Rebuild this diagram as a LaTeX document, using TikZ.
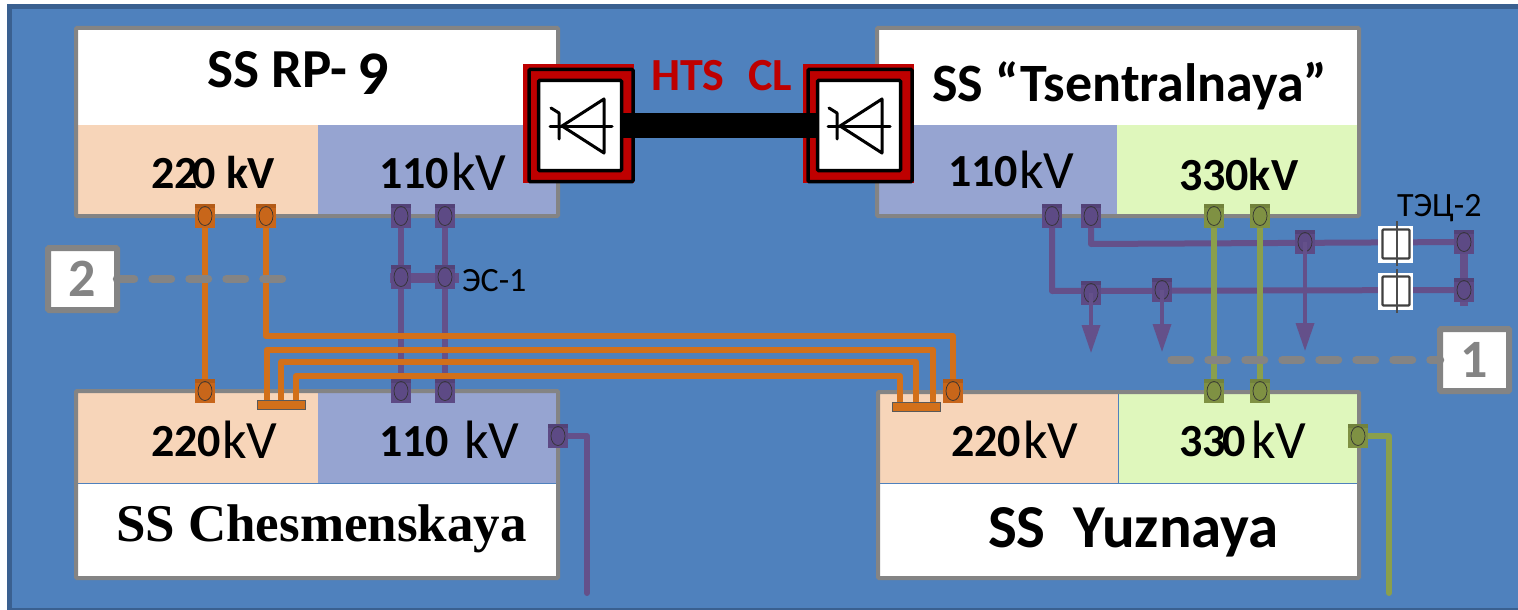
\documentclass[tikz,border=0pt]{standalone}
\usepackage{fontspec}
\setmainfont{Carlito}
\newfontfamily\serifb[Ligatures=TeX]{Liberation Serif}
\usetikzlibrary{arrows.meta}
\pgfdeclarelayer{bglayer}
\pgfdeclarelayer{wirelayer}
\pgfsetlayers{bglayer,wirelayer,main}
\definecolor{panelblue}{HTML}{4F81BD}
\definecolor{paneledge}{HTML}{3A6090}
\definecolor{greyline}{HTML}{848484}
\definecolor{peach}{HTML}{F7D5B9}
\definecolor{lavblue}{HTML}{96A4D1}
\definecolor{paleg}{HTML}{DFF7BC}
\definecolor{orangew}{HTML}{D2701A}
\definecolor{orangep}{HTML}{C8661A}
\definecolor{purplew}{HTML}{64508A}
\definecolor{purplep}{HTML}{5D4A85}
\definecolor{greenw}{HTML}{8A9F4C}
\definecolor{greenp}{HTML}{7F9143}
\definecolor{redc}{HTML}{BE0000}
\newcommand{\Fz}[1]{\fontsize{#1}{#1}\selectfont}
\tikzset{
  x=1pt,y=-1pt,
  txt/.style={anchor=base west,inner sep=0pt,outer sep=0pt},
  frame/.style={draw=greyline,line width=4pt,rounded corners=1pt},
  port/.style={rectangle,minimum width=20pt,minimum height=24pt,inner sep=0pt,outer sep=0pt,fill=#1,
    path picture={\fill[black,opacity=.1] (path picture bounding box.north west) rectangle ([yshift=-4pt]path picture bounding box.north east);
      \draw[black!80,line width=.7pt] (path picture bounding box.center) ellipse [x radius=7pt,y radius=9.5pt];}},
  wire/.style={line width=6pt,line join=round,line cap=round},
  orangeline/.style={wire,draw=orangew},
  purpleline/.style={wire,draw=purplew},
  greenline/.style={wire,draw=greenw},
  dashline/.style={draw=greyline,line width=8.5pt,line cap=round,dash pattern=on 18.5pt off 18.5pt},
  tagbox/.style={rectangle,draw=greyline,fill=white,line width=6pt,rounded corners=1pt,inner sep=0pt,outer sep=0pt,minimum width=69pt,minimum height=62pt,text=greyline,font=\Fz{54}\bfseries},
  busbar/.style={rectangle,fill=orangew,draw=black!65,line width=.7pt,inner sep=0pt,outer sep=0pt,minimum width=48pt,minimum height=9pt},
  convred/.style={rectangle,fill=redc,inner sep=0pt,outer sep=0pt,minimum width=111pt,minimum height=119pt},
  convblack/.style={rectangle,draw=black,line width=3.5pt,rounded corners=1pt,inner sep=0pt,outer sep=0pt,minimum width=104pt,minimum height=112pt},
  convinner/.style={rectangle,fill=white,draw=black,line width=3.5pt,rounded corners=1pt,inner sep=0pt,outer sep=0pt,minimum width=83pt,minimum height=90pt},
  switchbox/.style={rectangle,fill=white,inner sep=0pt,outer sep=0pt,minimum width=35pt,minimum height=37pt},
  switchin/.style={rectangle,fill=white,draw=black!75,line width=2.2pt,rounded corners=1pt,inner sep=0pt,outer sep=0pt,minimum width=27pt,minimum height=29pt},
  stem/.style={draw=black!70,line width=2pt},
  flow/.style={draw=purplew,line width=3.5pt,-{Triangle[width=18pt,length=28pt]}},
  diodeline/.style={draw=black,line width=3pt,line cap=round,line join=round},
  pics/diodesym/.style={code={
    \draw[diodeline] (-12,0) -- (50,0);
    \draw[diodeline] (42,-27) -- (0,0) -- (42,27) -- cycle;
    \draw[diodeline] (-11,-18) -- (-3,-13) -- (-3,13);
  }}
}
\begin{document}
\begin{tikzpicture}
\useasboundingbox (0,0) rectangle (1518,610);
\begin{pgfonlayer}{bglayer}
  \path[fill=white] (0,0) rectangle (1518,610);
  \path[fill=panelblue] (7,4) rectangle (1518,610);
  \path[fill=paneledge] (7,4) rectangle (1518,9);
  \path[fill=paneledge] (7,4) rectangle (12,610);
  \path[fill=paneledge] (7,608) rectangle (1518,610);
  % RP-9
  \path[fill=white] (76,28) rectangle (558,125);
  \path[fill=peach] (76,125) rectangle (318,216);
  \path[fill=lavblue] (318,125) rectangle (558,216);
  \path[frame] (76,28) rectangle (558,216);
  % Tsentralnaya
  \path[fill=white] (877,28) rectangle (1359,125);
  \path[fill=lavblue] (877,125) rectangle (1117,216);
  \path[fill=paleg] (1117,125) rectangle (1359,216);
  \path[frame] (877,28) rectangle (1359,216);
  % Chesmenskaya
  \path[fill=peach] (76,391) rectangle (318,483);
  \path[fill=lavblue] (318,391) rectangle (558,483);
  \path[fill=white] (76,483) rectangle (558,578);
  \draw[panelblue,line width=.7pt] (76,483) -- (558,483);
  \path[frame] (76,391) rectangle (558,578);
  % Yuznaya
  \path[fill=peach] (878,392) rectangle (1118,483);
  \path[fill=paleg] (1118,392) rectangle (1359,483);
  \path[fill=white] (878,483) rectangle (1359,578);
  \draw[panelblue,line width=.7pt] (878,483) -- (1359,483) (1118,392) -- (1118,483);
  \path[frame] (878,392) rectangle (1359,578);
\end{pgfonlayer}

% ports
\node[port=orangep] (ra) at (205,216) {};
\node[port=orangep] (rb) at (266,216) {};
\node[port=purplep] (rc) at (401,216) {};
\node[port=purplep] (rd) at (445,216) {};
\node[port=purplep] (mc) at (401,277) {};
\node[port=purplep] (md) at (445,277) {};
\node[port=orangep] (ca) at (205,391) {};
\node[port=purplep] (cc) at (401,391) {};
\node[port=purplep] (cd) at (445,391) {};
\node[port=purplep] (ce) at (558,436) {};
\node[port=orangep] (yb) at (953,391) {};
\node[port=greenp] (yc) at (1214,391) {};
\node[port=greenp] (yd) at (1260,391) {};
\node[port=greenp] (ye) at (1358,436) {};
\node[port=purplep] (ta) at (1052,216) {};
\node[port=purplep] (tb) at (1091,216) {};
\node[port=greenp] (tc) at (1214,216) {};
\node[port=greenp] (td) at (1260,216) {};
\node[port=purplep] (pa) at (1091,293) {};
\node[port=purplep] (pb) at (1162,290) {};
\node[port=purplep] (pc) at (1305,242) {};
\node[port=purplep] (pd) at (1464,242) {};
\node[port=purplep] (pe) at (1464,290) {};
\node[busbar] (bl) at (281.5,404.5) {};
\node[busbar] (br) at (916,406.5) {};

% elbows and free ends
\coordinate (e1) at (953,336);
\coordinate (l2) at (267,404);
\coordinate (r2) at (933,406);
\coordinate (k2) at (933,350);
\coordinate (l3) at (281,404);
\coordinate (r3) at (916,406);
\coordinate (k3) at (916,362);
\coordinate (l4) at (296,404);
\coordinate (r4) at (900,406);
\coordinate (k4) at (900,376);
\coordinate (ce1) at (587,436);
\coordinate (ce2) at (587,593);
\coordinate (ye1) at (1389,436);
\coordinate (ye2) at (1389,593);
\coordinate (tb1) at (1091,244);
\coordinate (ta1) at (1052,291);
\coordinate (v2) at (1464,306);
\coordinate (fa) at (1091,353);
\coordinate (fb) at (1162,352);
\coordinate (fc) at (1305,351);
\coordinate (d1) at (1171.5,360);
\coordinate (d2) at (282,279);
\coordinate (h1) at (390,277.5);
\coordinate (h2) at (459,277.5);

\begin{pgfonlayer}{wirelayer}
  \draw[purpleline] (rc.center) -- (cc.center);
  \draw[purpleline] (rd.center) -- (cd.center);
  \draw[line width=10pt,draw=purplew] (h1) -- (h2);
  \draw[orangeline] (ra.center) -- (ca.center);
  \draw[orangeline] (rb.center) |- (e1) -- (yb.center);
  \draw[orangeline] (l2) |- (k2) -- (r2);
  \draw[orangeline] (l3) |- (k3) -- (r3);
  \draw[orangeline] (l4) |- (k4) -- (r4);
  \draw[purpleline] (ce.center) -- (ce1) -- (ce2);
  \draw[greenline] (ye.center) -- (ye1) -- (ye2);
  \draw[purpleline] (tb.center) -- (tb1) -- (pd.center);
  \draw[purpleline] (ta.center) -- (ta1) -- (pe.center);
  \draw[line width=8pt,draw=purplew] (pd.center) -- (v2);
  \draw[greenline] (tc.center) -- (yc.center);
  \draw[greenline] (td.center) -- (yd.center);
\end{pgfonlayer}

\draw[flow] (pa.center) -- (fa);
\draw[flow] (pb.center) -- (fb);
\draw[flow] (pc.center) -- (fc);

% tag boxes and dashed lines
\node[tagbox] (tag2) at (82.5,279) {2};
\node[tagbox] (tag1) at (1474.5,360) {1};
\draw[dashline] (d1) -- (tag1.west);
\draw[dashline] (d2) -- (tag2.east);

% switches
\node[switchbox] (sw1) at (1395.5,244) {};
\node[switchin] (si1) at (1396,244) {};
\node[switchbox] (sw2) at (1395.5,291) {};
\node[switchin] (si2) at (1396,291) {};
\coordinate (s1a) at (1397,221);
\coordinate (s1b) at (1397,266);
\coordinate (s2a) at (1397,269);
\coordinate (s2b) at (1397,313);
\draw[stem] (s1a) -- (s1b);
\draw[stem] (s2a) -- (s2b);

% converters
\node[convred] (lr) at (578.5,123.5) {};
\node[convblack] (lb) at (581,125.5) {};
\node[convinner] (li) at (580,125.5) {};
\node[convred] (rr) at (858.5,123.5) {};
\node[convblack] (rb2) at (860,125.5) {};
\node[convinner] (ri) at (859,125.5) {};
\draw[line width=25pt,draw=black] (li.east) -- (ri.west);
\pic at (562,126) {diodesym};
\pic at (840,126) {diodesym};

% labels
\node[txt,text=redc,font=\Fz{46}\bfseries] (hts) at (651,91) {HTS};
\node[txt,text=redc,font=\Fz{46}\bfseries] (cl) at (748,91) {CL};

\node[txt,font=\Fz{55}\bfseries] (t1) at (207,88) {SS RP-};
\node[txt,font=\Fz{62}\bfseries] (t1b) at (357,95) {9};
\node[txt,font=\Fz{46}\bfseries] (v1) at (151,188) {22\kern-5pt0 k\kern-1ptV};
\node[txt,font=\Fz{46}\bfseries] (v2a) at (379,188) {110};
\node[txt,font=\Fz{54}] (v2b) at (451,190) {kV};

\node[txt,font=\Fz{54}\bfseries] (t2) at (932,101) {SS “Tsentralnaya”};
\node[txt,font=\Fz{46}\bfseries] (v3a) at (948,186) {110};
\node[txt,font=\Fz{54}] (v3b) at (1019,188) {kV};
\node[txt,font=\Fz{46}\bfseries] (v4) at (1179,190) {330kV};

\node[txt,font=\Fz{46}\bfseries] (v5a) at (151,456) {220};
\node[txt,font=\Fz{54}] (v5b) at (222,458) {kV};
\node[txt,font=\Fz{46}\bfseries] (v6a) at (379,456) {110};
\node[txt,font=\Fz{54}] (v6b) at (464,458) {kV};
\node[txt,font=\serifb\Fz{53}\bfseries] (t3) at (116,541) {SS Chesmenskaya};

\node[txt,font=\Fz{46}\bfseries] (v7a) at (951,456) {220};
\node[txt,font=\Fz{54}] (v7b) at (1023,458) {kV};
\node[txt,font=\Fz{46}\bfseries] (v8a) at (1179,456) {33\kern-3pt0};
\node[txt,font=\Fz{54}] (v8b) at (1251,458) {kV};
\node[txt,font=\Fz{61}\bfseries] (t4) at (988,547) {SS\ \ Yuznaya};

\node[txt,font=\Fz{34}] (es) at (462,291) {ЭС-1};
\node[txt,font=\Fz{34}] (tec) at (1397,216) {ТЭЦ-2};
\end{tikzpicture}
\end{document}
